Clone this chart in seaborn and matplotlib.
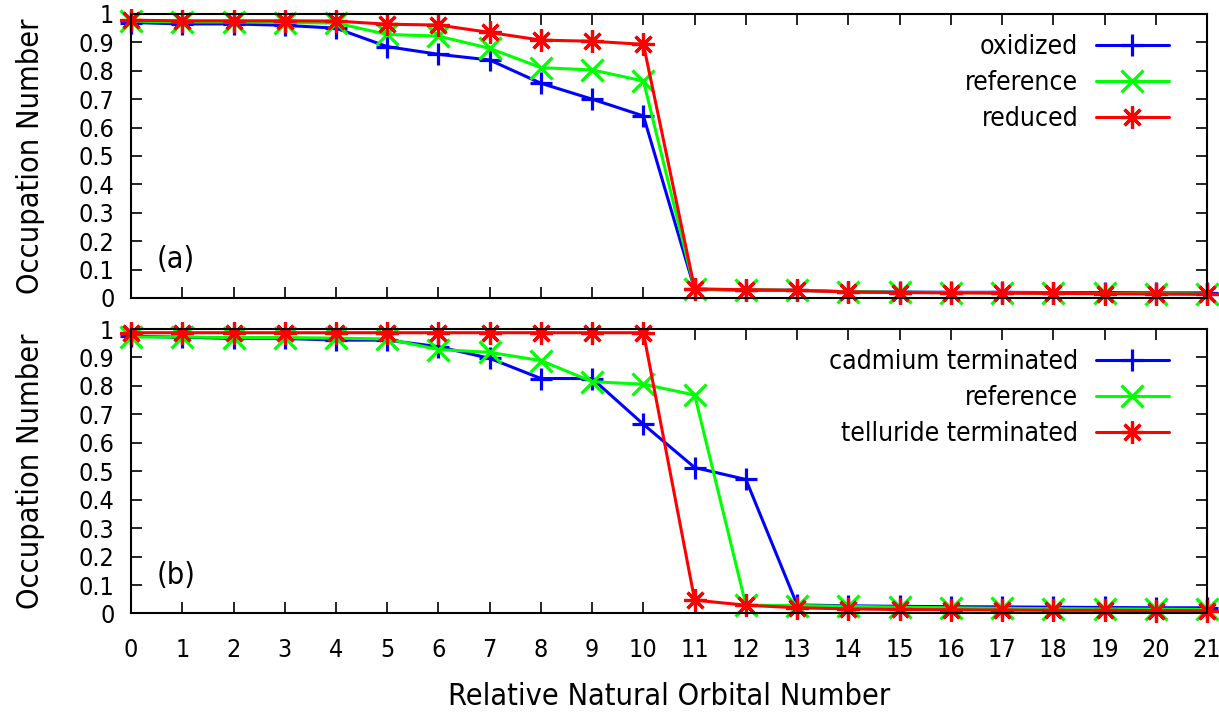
import matplotlib
matplotlib.use("Agg")
import matplotlib.pyplot as plt
import seaborn as sns
import numpy as np
import pandas as pd

# orbital index (relative natural orbital number)
orbitals = list(range(22))

# panel (a): charge states
oxidized = [0.970, 0.965, 0.965, 0.960, 0.950, 0.885, 0.858, 0.838, 0.756, 0.700, 0.641,
            0.030, 0.028, 0.027, 0.022, 0.021, 0.020, 0.020, 0.019, 0.019, 0.018, 0.018]
reference_a = [0.975, 0.972, 0.972, 0.970, 0.968, 0.928, 0.922, 0.879, 0.811, 0.803, 0.764,
               0.031, 0.029, 0.027, 0.022, 0.020, 0.019, 0.018, 0.017, 0.016, 0.015, 0.014]
reduced = [0.978, 0.976, 0.976, 0.976, 0.975, 0.964, 0.961, 0.935, 0.908, 0.904, 0.893,
           0.032, 0.029, 0.027, 0.021, 0.019, 0.018, 0.017, 0.016, 0.015, 0.014, 0.013]

# panel (b): surface termination
cadmium = [0.975, 0.971, 0.967, 0.967, 0.961, 0.961, 0.938, 0.897, 0.826, 0.826, 0.665,
           0.513, 0.471, 0.030, 0.027, 0.025, 0.024, 0.023, 0.022, 0.021, 0.020, 0.020]
reference_b = [0.972, 0.972, 0.970, 0.970, 0.968, 0.965, 0.928, 0.918, 0.889, 0.815, 0.806,
               0.768, 0.029, 0.028, 0.025, 0.022, 0.020, 0.018, 0.017, 0.016, 0.015, 0.014]
telluride = [0.987, 0.987, 0.987, 0.987, 0.987, 0.987, 0.987, 0.987, 0.987, 0.987, 0.987,
             0.047, 0.029, 0.020, 0.016, 0.014, 0.013, 0.012, 0.011, 0.011, 0.010, 0.010]

labels_a = ["oxidized", "reference", "reduced"]
labels_b = ["cadmium terminated", "reference", "telluride terminated"]
ytick_labels = ["0", "0.1", "0.2", "0.3", "0.4", "0.5", "0.6", "0.7", "0.8", "0.9", "1"]
colors = ["#0000ff", "#00ff00", "#ff0000"]
markers = ["+", "x", (8, 2, 0)]

sns.set_style("ticks")
plt.rcParams["font.family"] = ["DejaVu Sans"]
plt.rcParams["font.stretch"] = "condensed"
plt.rcParams["text.color"] = "black"
plt.rcParams["axes.labelcolor"] = "black"

fig = plt.figure(figsize=(12.19, 7.17), dpi=100)
ax_a = fig.add_axes([0.1075, 0.5844, 0.8827, 0.3961])
ax_b = fig.add_axes([0.1075, 0.1444, 0.8827, 0.3967])


def draw(ax, series, names, tag):
    for vals, name, col, mk in zip(series, names, colors, markers):
        df = pd.DataFrame({"x": orbitals, "y": vals})
        sns.lineplot(data=df, x="x", y="y", ax=ax, color=col, marker=mk,
                     markersize=16, markeredgewidth=2.3, markeredgecolor=col,
                     linewidth=2.2, label=name, clip_on=False)
    ax.set_xlim(0, 21)
    ax.set_ylim(0, 1)
    ax.set_xticks(orbitals)
    ax.set_yticks(np.linspace(0, 1, 11))
    ax.set_yticklabels(ytick_labels)
    ax.tick_params(direction="in", length=8, width=1.2, top=True, right=True,
                   labelsize=18, colors="black")
    ax.tick_params(axis="y", pad=12)
    ax.tick_params(axis="x", pad=18)
    for s in ax.spines.values():
        s.set_linewidth(1.5)
        s.set_color("black")
    ax.set_ylabel("Occupation Number", fontsize=22)
    ax.yaxis.set_label_coords(-0.08, 0.5)
    ax.set_xlabel("")
    ax.text(0.024, 0.135, tag, transform=ax.transAxes, fontsize=22, ha="left", va="center")
    leg = ax.legend(loc="upper right", markerfirst=False, frameon=False, fontsize=19,
                    handlelength=2.8, handletextpad=0.65, labelspacing=0.38,
                    bbox_to_anchor=(0.965, 0.93), borderaxespad=0, borderpad=0)
    for col in leg._legend_handle_box.get_children():
        col.align = "right"


draw(ax_a, [oxidized, reference_a, reduced], labels_a, "(a)")
draw(ax_b, [cadmium, reference_b, telluride], labels_b, "(b)")

ax_a.tick_params(labelbottom=False)
ax_b.set_xlabel("Relative Natural Orbital Number", fontsize=22, labelpad=14)

fig.savefig("out.png", dpi=100)
